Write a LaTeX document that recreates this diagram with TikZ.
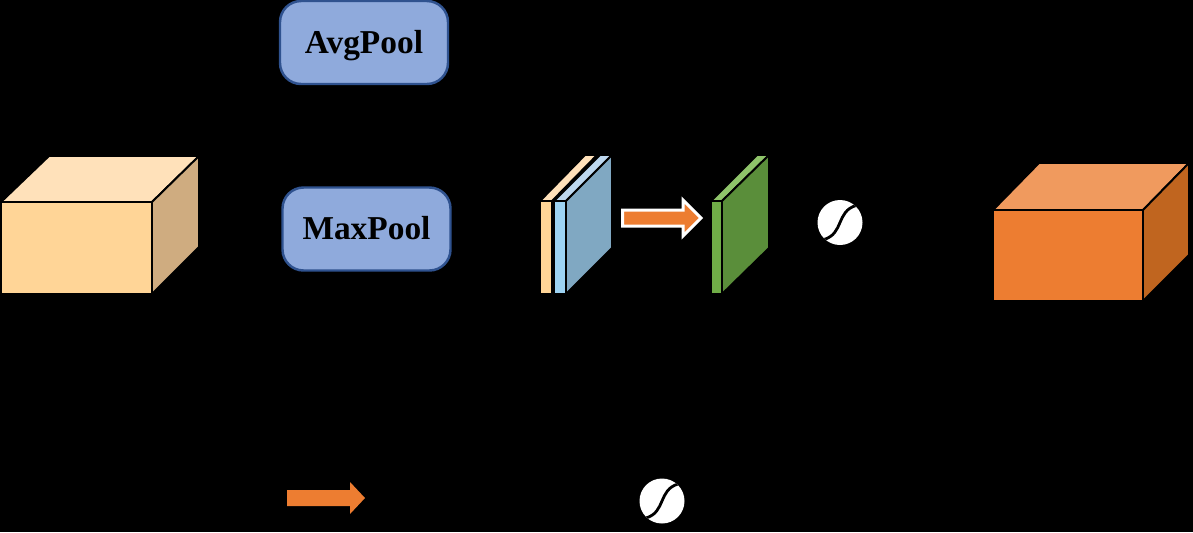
\documentclass[tikz,border=0pt]{standalone}
\usepackage{fontspec}
\setmainfont{Liberation Serif}
\definecolor{bgc}{HTML}{000000}
\definecolor{poolfill}{HTML}{8FAADC}
\definecolor{pooldraw}{HTML}{2F528F}
\definecolor{cubefront}{HTML}{FFD597}
\definecolor{cubetop}{HTML}{FFE1BA}
\definecolor{cubeside}{HTML}{CFAC80}
\definecolor{ofront}{HTML}{ED7D31}
\definecolor{otop}{HTML}{F09A5E}
\definecolor{oside}{HTML}{C0651F}
\definecolor{bfront}{HTML}{9DD3F2}
\definecolor{btop}{HTML}{BDD7EE}
\definecolor{bside}{HTML}{80A8C2}
\definecolor{gfront}{HTML}{70AD47}
\definecolor{gtop}{HTML}{8FC46A}
\definecolor{gside}{HTML}{5A8E3A}
\definecolor{arrowc}{HTML}{ED7D31}
\newlength{\pxu}\setlength{\pxu}{0.02cm}
\tikzset{
  facestyle/.style={draw=black, line width=1.1pt, line join=miter},
  poolbox/.style={draw=pooldraw, fill=poolfill, line width=1.4pt, rounded corners=12pt,
     minimum width=168\pxu, minimum height=83\pxu, inner sep=0pt,
     text height=12.5pt, text depth=0pt,
     font=\fontsize{19}{22}\selectfont\bfseries},
  sigcircle/.style={circle, fill=white, draw=none, minimum size=45\pxu, inner sep=0pt},
  seam/.style={black, line width=1.6pt, line cap=round},
}
\begin{document}
\begin{tikzpicture}[x=0.02cm, y=-0.02cm]
\fill[bgc] (0,0) rectangle (1193,532);
\useasboundingbox (0,0) rectangle (1193,532);

% left cube
\path[facestyle, fill=cubetop] (1,202) -- (49,156) -- (199,156) -- (152,202) -- cycle;
\path[facestyle, fill=cubeside] (152,202) -- (199,156) -- (199,247) -- (152,294) -- cycle;
\path[facestyle, fill=cubefront] (1,202) rectangle (152,294);

% pool boxes
\node[poolbox] (avg) at (364,42.5) {AvgPool};
\node[poolbox] (max) at (366.5,229) {MaxPool};

% stacked slabs: orange, blue
\path[facestyle, fill=cubetop] (540,201) -- (585,155) -- (597,155) -- (552,201) -- cycle;
\path[facestyle, fill=cubefront] (540,201) rectangle (552,294);
\path[facestyle, fill=btop] (554,201) -- (600,155) -- (612,155) -- (566,201) -- cycle;
\path[facestyle, fill=bside] (566,201) -- (612,155) -- (612,248) -- (566,294) -- cycle;
\path[facestyle, fill=bfront] (554,201) rectangle (566,294);

% orange arrow with white outline
\path[fill=arrowc, draw=white, line width=1.7pt, line join=miter]
  (622.5,210) -- (683,210) -- (683,200) -- (701,218) -- (683,236) -- (683,226) -- (622.5,226) -- cycle;

% green slab
\path[facestyle, fill=gtop] (711,201) -- (757,155) -- (769,155) -- (722,201) -- cycle;
\path[facestyle, fill=gside] (722,201) -- (769,155) -- (769,248) -- (722,294) -- cycle;
\path[facestyle, fill=gfront] (711,201) rectangle (722,294);

% sigmoid circle 1
\node[sigcircle] (sig1) at (840,222.5) {};
\begin{scope}
\clip (sig1.center) circle (22.5);
\draw[seam] ([shift={(16,-17)}]sig1.center)
   .. controls +(-10,3) and +(3,-7) .. (sig1.center)
   .. controls +(-3,7) and +(10,-3) .. ([shift={(-16,17)}]sig1.center);
\end{scope}

% right cube
\path[facestyle, fill=otop] (993,210) -- (1039,163) -- (1189,163) -- (1143,210) -- cycle;
\path[facestyle, fill=oside] (1143,210) -- (1189,163) -- (1189,255) -- (1143,301) -- cycle;
\path[facestyle, fill=ofront] (993,210) rectangle (1143,301);

% legend arrow
\path[fill=arrowc]
  (287,490) -- (350,490) -- (350,482) -- (365,498) -- (350,514) -- (350,506) -- (287,506) -- cycle;

% legend sigmoid
\node[sigcircle] (sig2) at (662,501) {};
\begin{scope}
\clip (sig2.center) circle (22.5);
\draw[seam] ([shift={(16,-17)}]sig2.center)
   .. controls +(-10,3) and +(3,-7) .. (sig2.center)
   .. controls +(-3,7) and +(10,-3) .. ([shift={(-16,17)}]sig2.center);
\end{scope}
\end{tikzpicture}
\end{document}
